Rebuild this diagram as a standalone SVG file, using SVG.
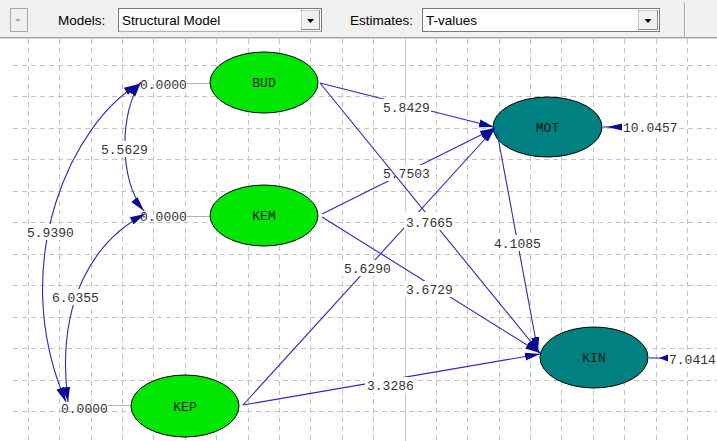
<svg xmlns="http://www.w3.org/2000/svg" width="717" height="441" viewBox="0 0 717 441">
<defs>
<style>
.ui{font-family:"Liberation Sans",Arial,sans-serif;font-size:13.5px;fill:#000}
.grid{stroke:#c4c4c4;stroke-width:1;fill:none;stroke-dasharray:5 4}
.num{font-family:"Liberation Mono","Courier New",monospace;font-size:13px;fill:#333}
.nl{font-family:"Liberation Mono","Courier New",monospace;font-size:13px;fill:#0d1a0d;text-anchor:middle}
.lat{fill:#00e600;stroke:#000;stroke-width:1}
.end{fill:#008080;stroke:#000;stroke-width:1}
.stub{stroke:#b4b4b4;stroke-width:1}
.path{stroke:#2a2ab8;stroke-width:1.1;fill:none;marker-end:url(#ah)}
.cov{stroke:#2a2ab8;stroke-width:1.1;fill:none;marker-end:url(#ah);marker-start:url(#ah)}
.bg{fill:#fff}
.head{fill:#0a0a9a}
</style>
<marker id="ah" markerUnits="userSpaceOnUse" markerWidth="16" markerHeight="10" viewBox="0 0 16 10" refX="15" refY="5" orient="auto-start-reverse">
<path d="M0,1 L15,5 L0,9 z" fill="#0a0a9a"/>
</marker>
</defs>
<rect width="717" height="441" fill="#fff"/>
<g id="toolbar">
<rect x="0" y="0" width="717" height="38" fill="#f0f0f0"/>
<line x1="0" y1="37.5" x2="717" y2="37.5" stroke="#a0a0a0"/>
<line x1="0" y1="38.5" x2="717" y2="38.5" stroke="#d8d8d8"/>
<rect x="10.5" y="8.5" width="17" height="23" fill="#f0f0f0" stroke="#a8a8a8"/>
<path d="M15,19 L21,19 L18,22 z" fill="#a8a8a8"/>
<text class="ui" x="58" y="25">Models:</text>
<rect x="118.5" y="8.5" width="203" height="23" fill="#fff" stroke="#7a7a7a"/>
<line x1="119" y1="31" x2="321" y2="31" stroke="#e8e8e8"/>
<rect x="301.5" y="10.5" width="18" height="19" fill="#f0f0f0" stroke="#8a8a8a"/>
<path d="M302,11 L319,11 M302,11 L302,29" stroke="#fff"/>
<path d="M307,19 L314,19 L310.5,23 z" fill="#000"/>
<text class="ui" x="122" y="25">Structural Model</text>
<text class="ui" x="350" y="25">Estimates:</text>
<rect x="422.5" y="8.5" width="237" height="23" fill="#fff" stroke="#7a7a7a"/>
<rect x="638.5" y="10.5" width="19" height="19" fill="#f0f0f0" stroke="#8a8a8a"/>
<path d="M639,11 L657,11 M639,11 L639,29" stroke="#fff"/>
<path d="M644.5,19 L651.5,19 L648,23 z" fill="#000"/>
<text class="ui" x="426" y="25">T-values</text>
<line x1="684.5" y1="2" x2="684.5" y2="37" stroke="#a8a8a8"/>
<line x1="685.5" y1="2" x2="685.5" y2="37" stroke="#fff"/>
</g>
<g id="grid">
<path class="grid" d="M28.5,39V441 M59.5,39V441 M91.5,39V441 M122.5,39V441 M153.5,39V441 M185.5,39V441 M216.5,39V441 M248.5,39V441 M279.5,39V441 M310.5,39V441 M342.5,39V441 M373.5,39V441 M436.5,39V441 M467.5,39V441 M499.5,39V441 M530.5,39V441 M561.5,39V441 M593.5,39V441 M624.5,39V441 M656.5,39V441 M687.5,39V441"/>
<path class="grid" d="M13,65.5H717 M13,96.5H717 M13,128.5H717 M13,159.5H717 M13,191.5H717 M13,222.5H717 M13,254.5H717 M13,285.5H717 M13,317.5H717 M13,348.5H717 M13,380.5H717 M13,411.5H717"/>
<line x1="405.5" y1="39" x2="405.5" y2="441" stroke="#c8c8c8"/>
</g>
<g id="node-BUD">
<line class="stub" x1="187" y1="83.5" x2="210" y2="83.5"/>
<text class="num" x="140" y="88.5">0.0000</text>
<ellipse class="lat" cx="264" cy="82.5" rx="54" ry="30.5"/>
<text class="nl" x="264" y="87">BUD</text>
</g>
<g id="node-KEM">
<line class="stub" x1="187" y1="216.5" x2="210" y2="216.5"/>
<text class="num" x="140" y="221">0.0000</text>
<ellipse class="lat" cx="264" cy="215.5" rx="54" ry="30.5"/>
<text class="nl" x="264" y="220">KEM</text>
</g>
<g id="node-KEP">
<line class="stub" x1="108" y1="405.5" x2="131" y2="405.5"/>
<text class="num" x="61" y="412.5">0.0000</text>
<ellipse class="lat" cx="185" cy="406" rx="54" ry="31"/>
<text class="nl" x="185" y="410.5">KEP</text>
</g>
<g id="node-MOT">
<ellipse class="end" cx="547.5" cy="127" rx="54.5" ry="30"/>
<text class="nl" x="547.5" y="131.5">MOT</text>
<line x1="603" y1="127" x2="622" y2="127" stroke="#2a2ab8" stroke-width="1.1"/>
<path class="head" d="M607,127 L622,123.5 L622,130.5 z"/>
<rect class="bg" x="622" y="119" width="57" height="16"/>
<text class="num" x="623" y="131.5">10.0457</text>
</g>
<g id="node-KIN">
<ellipse class="end" cx="594" cy="357.5" rx="54" ry="30.5"/>
<text class="nl" x="594" y="362">KIN</text>
<line x1="649" y1="358" x2="664" y2="358" stroke="#2a2ab8" stroke-width="1.1"/>
<path class="head" d="M659,358 L668,354.5 L668,361.5 z"/>
<rect class="bg" x="668" y="351" width="49" height="16"/>
<text class="num" x="669" y="363.5">7.0414</text>
</g>
<g id="connectors">
<path class="path" d="M322,214 L495,128"/>
<rect class="bg" x="381" y="165" width="50" height="16"/>
<text class="num" x="383" y="177.5">5.7503</text>
<path class="path" d="M243,405 L495,128"/>
<rect class="bg" x="342" y="260" width="51" height="16"/>
<text class="num" x="344" y="272.5">5.6290</text>
<path class="path" d="M320,83 L540,353"/>
<rect class="bg" x="404" y="212" width="51" height="18"/>
<text class="num" x="406" y="226.5">3.7665</text>
<path class="path" d="M320,83 L494,127"/>
<rect class="bg" x="381" y="99" width="50" height="16"/>
<text class="num" x="383" y="111.5">5.8429</text>
<path class="path" d="M322,217 L540,353"/>
<rect class="bg" x="404" y="281" width="51" height="16"/>
<text class="num" x="406" y="293.5">3.6729</text>
<path class="path" d="M243,405 L540,354"/>
<rect class="bg" x="365" y="377" width="50" height="16"/>
<text class="num" x="367" y="389.5">3.3286</text>
<path class="path" d="M497,132 L538,352"/>
<rect class="bg" x="492" y="235" width="50" height="16"/>
<text class="num" x="494" y="247.5">4.1085</text>
<path class="cov" d="M141,82 C120,110 118,180 144,211"/>
<rect class="bg" x="99" y="141" width="51" height="16"/>
<text class="num" x="101" y="153.5">5.5629</text>
<path class="cov" d="M139,84 C75,120 5,260 66,402"/>
<rect class="bg" x="25" y="224" width="51" height="16"/>
<text class="num" x="27" y="236.5">5.9390</text>
<path class="cov" d="M145,214 C95,240 55,300 68,402"/>
<rect class="bg" x="50" y="289" width="51" height="16"/>
<text class="num" x="52" y="301.5">6.0355</text>
</g>
</svg>
